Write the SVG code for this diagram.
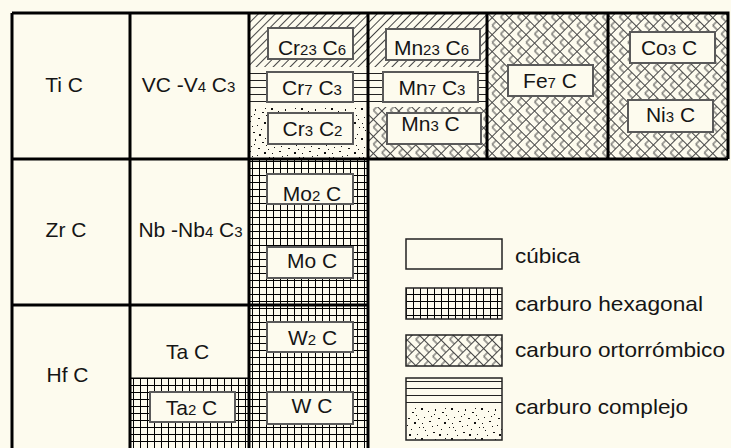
<svg xmlns="http://www.w3.org/2000/svg" width="731" height="448" viewBox="0 0 731 448">
<defs>
<style>
text{font-family:"Liberation Sans",Arial,sans-serif;font-size:21px;fill:#151515;text-anchor:middle}
.s{font-size:15px}
.lg{text-anchor:start}
.box{fill:#FDFBEE;stroke:#5a5a5a;stroke-width:2}
.grid{stroke:#000;stroke-width:3;fill:none}
.leg{stroke:#222;stroke-width:1.5}
</style>
<pattern id="diag" width="6" height="6" patternUnits="userSpaceOnUse" patternTransform="rotate(45)">
<rect width="6" height="6" fill="#FDFBEE"/><line x1="0.5" y1="0" x2="0.5" y2="6" stroke="#444" stroke-width="1"/>
</pattern>
<pattern id="horiz" width="10" height="7" patternUnits="userSpaceOnUse">
<rect width="10" height="7" fill="#FDFBEE"/><line x1="0" y1="3.5" x2="10" y2="3.5" stroke="#222" stroke-width="1"/>
</pattern>
<pattern id="hex" width="7" height="7" patternUnits="userSpaceOnUse">
<rect width="7" height="7" fill="#FDFBEE"/><path d="M0.5 0V7M0 0.5H7" stroke="#000" stroke-width="1"/>
</pattern>
<pattern id="ortho" width="12" height="12" patternUnits="userSpaceOnUse" patternTransform="rotate(45)">
<rect width="12" height="12" fill="#FDFBEE"/>
<path d="M0 0.5H12M0.5 0V12M6 0.5V6M6 6H12" stroke="#444" stroke-width="1" fill="none"/>
</pattern>
<pattern id="stip" width="30" height="30" patternUnits="userSpaceOnUse">
<rect width="30" height="30" fill="#FDFBEE"/>
<g fill="#111">
<rect x="2" y="3" width="1" height="1"/><rect x="9" y="1" width="2" height="1"/><rect x="17" y="5" width="1" height="1"/>
<rect x="24" y="2" width="2" height="2"/><rect x="5" y="10" width="1" height="1"/><rect x="13" y="12" width="2" height="1"/>
<rect x="21" y="9" width="1" height="1"/><rect x="27" y="14" width="1" height="1"/><rect x="1" y="18" width="2" height="2"/>
<rect x="8" y="21" width="1" height="1"/><rect x="15" y="19" width="1" height="2"/><rect x="22" y="22" width="2" height="1"/>
<rect x="4" y="27" width="1" height="1"/><rect x="11" y="26" width="1" height="1"/><rect x="18" y="28" width="2" height="1"/>
<rect x="26" y="25" width="1" height="1"/><rect x="29" y="7" width="1" height="1"/><rect x="12" y="6" width="1" height="1"/>
<rect x="7" y="15" width="1" height="1"/><rect x="19" y="14" width="2" height="2"/><rect x="25" y="18" width="1" height="1"/>
<rect x="14" y="24" width="1" height="1"/><rect x="28" y="29" width="1" height="1"/><rect x="3" y="7" width="1" height="1"/>
</g>
</pattern>
</defs>
<rect width="731" height="448" fill="#FDFBEE"/>

<g id="fills">
<rect x="249" y="13" width="238" height="54" fill="url(#diag)"/>
<rect x="249" y="67" width="238" height="40" fill="url(#horiz)"/>
<rect x="249" y="107" width="119" height="52" fill="url(#stip)"/>
<rect x="368" y="107" width="119" height="52" fill="url(#ortho)"/>
<rect x="487" y="13" width="241" height="146" fill="url(#ortho)"/>
<rect x="249" y="159" width="119" height="291" fill="url(#hex)"/>
<rect x="130" y="378" width="119" height="72" fill="url(#hex)"/>
<line x1="130" y1="378" x2="249" y2="378" stroke="#000" stroke-width="1"/>
</g>

<g id="connectors" class="grid">
<path d="M12 13H728V159M12 159H728M12 305H368M12 13V450M130 13V450M249 13V450M368 13V450M487 13V159M608 13V159"/>
</g>

<g id="TiC"><text x="64" y="92">Ti C</text></g>
<g id="VC"><text x="188.5" y="92">VC -V<tspan class="s">4</tspan> C<tspan class="s">3</tspan></text></g>
<g id="ZrC"><text x="66" y="237">Zr C</text></g>
<g id="NbC"><text x="190.5" y="237">Nb -Nb<tspan class="s">4</tspan> C<tspan class="s">3</tspan></text></g>
<g id="HfC"><text x="67.5" y="382">Hf C</text></g>
<g id="TaC"><text x="187.5" y="359">Ta C</text></g>
<g id="Ta2C"><rect class="box" x="150" y="392" width="85" height="30"/><text x="191.5" y="415">Ta<tspan class="s">2</tspan> C</text></g>

<g id="Cr23C6"><rect class="box" x="268" y="28" width="85" height="31"/><text x="312" y="55">Cr<tspan class="s">23</tspan> C<tspan class="s">6</tspan></text></g>
<g id="Cr7C3"><rect class="box" x="267" y="72" width="86" height="30"/><text x="312" y="95">Cr<tspan class="s">7</tspan> C<tspan class="s">3</tspan></text></g>
<g id="Cr3C2"><rect class="box" x="268" y="113" width="85" height="31"/><text x="312.5" y="136">Cr<tspan class="s">3</tspan> C<tspan class="s">2</tspan></text></g>

<g id="Mn23C6"><rect class="box" x="386" y="29" width="94" height="31"/><text x="431.5" y="55">Mn<tspan class="s">23</tspan> C<tspan class="s">6</tspan></text></g>
<g id="Mn7C3"><rect class="box" x="383" y="72" width="95" height="30"/><text x="432" y="95">Mn<tspan class="s">7</tspan> C<tspan class="s">3</tspan></text></g>
<g id="Mn3C"><rect class="box" x="387" y="113" width="94" height="31"/><text x="430.5" y="131">Mn<tspan class="s">3</tspan> C</text></g>

<g id="Fe7C"><rect class="box" x="508" y="65" width="85" height="31"/><text x="550" y="88">Fe<tspan class="s">7</tspan> C</text></g>
<g id="Co3C"><rect class="box" x="630" y="32" width="85" height="31"/><text x="669" y="55">Co<tspan class="s">3</tspan> C</text></g>
<g id="Ni3C"><rect class="box" x="628" y="100" width="85" height="32"/><text x="670.5" y="122">Ni<tspan class="s">3</tspan> C</text></g>

<g id="Mo2C"><rect class="box" x="267" y="174" width="86" height="30"/><text x="312" y="201">Mo<tspan class="s">2</tspan> C</text></g>
<g id="MoC"><rect class="box" x="267" y="247" width="86" height="31"/><text x="312" y="268">Mo C</text></g>
<g id="W2C"><rect class="box" x="267" y="322" width="86" height="30"/><text x="312.5" y="345">W<tspan class="s">2</tspan> C</text></g>
<g id="WC"><rect class="box" x="267" y="392" width="86" height="32"/><text x="312" y="413">W C</text></g>

<g id="legend">
<rect class="leg" x="406" y="239" width="96" height="30" fill="#FDFBEE"/>
<rect class="leg" x="406" y="288" width="96" height="31" fill="url(#hex)"/>
<rect class="leg" x="406" y="335" width="96" height="31" fill="url(#ortho)"/>
<rect x="406" y="378" width="96" height="30" fill="url(#horiz)"/>
<rect x="406" y="408" width="96" height="32" fill="url(#stip)"/>
<rect class="leg" x="406" y="378" width="96" height="62" fill="none"/>
<text class="lg" x="515" y="263" textLength="65" lengthAdjust="spacingAndGlyphs">cúbica</text>
<text class="lg" x="515" y="311" textLength="188" lengthAdjust="spacingAndGlyphs">carburo hexagonal</text>
<text class="lg" x="515" y="357" textLength="210" lengthAdjust="spacingAndGlyphs">carburo ortorrómbico</text>
<text class="lg" x="515" y="414" textLength="173" lengthAdjust="spacingAndGlyphs">carburo complejo</text>
</g>
</svg>
